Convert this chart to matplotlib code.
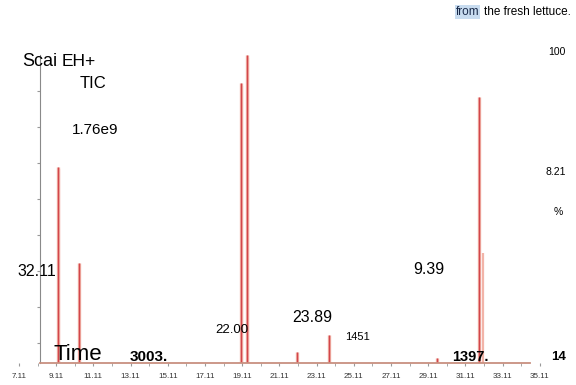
import numpy as np
import matplotlib
matplotlib.use('Agg')
import matplotlib.pyplot as plt

plt.rcParams['font.family'] = ['Liberation Sans', 'DejaVu Sans']

# retention times (min) and relative abundance (%) of the peaks
peak_times = [9.21, 10.34, 19.03, 19.35, 22.06, 23.78, 29.58, 31.84]
peak_heights = [63.6, 32.5, 90.9, 100.0, 3.6, 9.1, 1.5, 86.4]
shoulder_times = [9.27, 19.08, 19.40, 32.06]
shoulder_heights = [63.0, 90.0, 99.0, 35.7]

tick_times = [7.11, 9.11, 11.11, 13.11, 15.11, 17.11, 19.11, 21.11, 23.11,
              25.11, 27.11, 29.11, 31.11, 33.11, 35.11]
tick_labels = ['7.11', '9.11', '11.11', '13.11', '15.11', '17.11', '19.11', '21.11',
               '23.11', '25.11', '27.11', '29.11', '31.11', '33.11', '35.11']

W, H = 576, 385
fig = plt.figure(figsize=(W / 100, H / 100), dpi=100)
ax = fig.add_axes([8 / W, (H - 363) / H, (570 - 8) / W, 308 / H])

red = '#d2464c'
pink = '#f2b4a8'

ax.vlines(shoulder_times, 0, shoulder_heights, color=pink, lw=1.6)
ax.vlines(peak_times, 0, peak_heights, color=pink, lw=2.4)
ax.vlines(peak_times, 0, peak_heights, color=red, lw=1.0)

ax.set_xlim(6.52, 36.73)
ax.set_ylim(0, 100)

for s in ['top', 'right']:
    ax.spines[s].set_visible(False)
ax.spines['left'].set_position(('data', 8.24))
ax.spines['left'].set_bounds(0, 100)
ax.spines['bottom'].set_bounds(8.24, 34.6)
ax.spines['left'].set_color('#8a8a8a')
ax.spines['bottom'].set_color('#c89080')
ax.spines['bottom'].set_linewidth(1.3)

ax.set_xticks(tick_times)
ax.set_xticklabels(tick_labels, fontsize=5.8, color='#333333')
ax.set_xticks(np.arange(8.11, 35, 1), minor=True)
ax.tick_params(axis='x', which='both', length=2.5, color='#999999', pad=5)
ax.set_yticks(np.arange(6.5, 100, 11.7))
ax.set_yticklabels([])
ax.tick_params(axis='y', length=2.5, color='#999999')


def label(x, y, s, size, weight='normal', ha='left', **kw):
    fig.text(x / W, 1 - y / H, s, fontsize=size, fontweight=weight,
             ha=ha, va='center', **kw)


label(456, 12, 'from', 8.5, color='#1a2a4a',
      bbox=dict(facecolor='#c8dcf0', edgecolor='none', pad=0.5))
label(484, 12, 'the fresh lettuce.', 8.5)
label(566, 52, '100', 7.5, ha='right')
label(22, 61, 'Scai', 13)
label(62, 61, 'EH+', 12.5)
label(106, 84, 'TIC', 12, ha='right')
label(72, 130, '1.76e9', 11)
label(566, 172, '8.21', 7.5, ha='right')
label(563, 212, '%', 7.5, ha='right')
label(17, 271, '32.11', 11.5)
label(413, 270, '9.39', 11.5)
label(215, 330, '22.00', 9.5)
label(292, 318, '23.89', 11.5)
label(345, 337, '1451', 8)
label(53, 355, 'Time', 16)
label(130, 357, '3003.', 11, weight='bold')
label(452, 357, '1397.', 10.5, weight='bold')
label(566, 357, '14', 9.5, weight='bold', ha='right')

fig.savefig('out.png', dpi=100)
